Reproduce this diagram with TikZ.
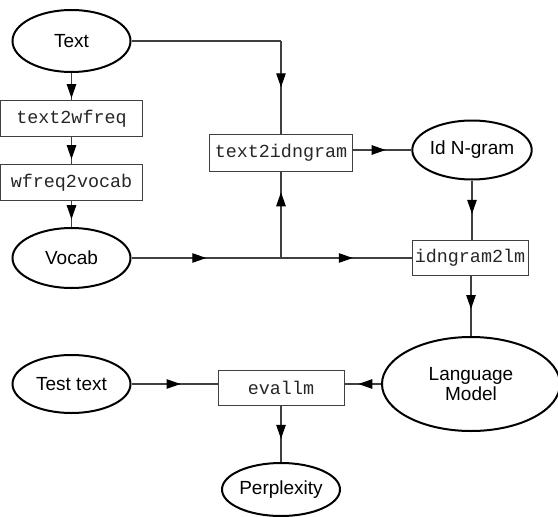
\documentclass[tikz,border=0pt]{standalone}
\usepackage{fontspec}
\setmainfont{Liberation Sans}
\newfontfamily\monof{Liberation Mono}
\usetikzlibrary{shapes.geometric,arrows.meta,decorations.markings}
\tikzset{
  oval/.style={ellipse, draw=black, line width=2pt, inner sep=0pt,
    font=\fontsize{19}{20}\selectfont, align=center},
  prog/.style={rectangle, draw=black!75, line width=1pt, inner sep=0pt,
    minimum height=36pt, text=black!85, font=\monof\fontsize{18.4}{20}\selectfont},
  conn/.style={draw=black!75, line width=1.1pt},
  midarr/.style={postaction={decorate}, decoration={markings,
    mark=at position #1 with {\arrow[black]{Triangle[length=14pt,width=9.5pt]}}}}
}
\begin{document}
\begin{tikzpicture}[x=1pt,y=-1pt]
\path[use as bounding box, clip] (0,0) rectangle (558,517);
% nodes
\node[oval, minimum width=118pt, minimum height=62pt] (text) at (71.5,41) {Text};
\node[prog, minimum width=142pt] (t2w) at (71.5,118.5) {text2wfreq};
\node[prog, minimum width=142pt] (w2v) at (71.5,182.5) {wfreq2vocab};
\node[oval, minimum width=118pt, minimum height=60pt] (voc) at (71.5,258) {Vocab};
\node[prog, minimum width=143pt, minimum height=37pt] (t2i) at (281,152.5) {text2idngram};
\node[oval, minimum width=110pt, minimum height=59pt] (idn) at (472,150) {Id N-gram};
\node[prog, minimum width=116pt, minimum height=35pt] (i2l) at (470,258) {idngram2lm};
\node[oval, minimum width=178pt, minimum height=94pt] (lm) at (471,384) {Language\\Model};
\node[oval, minimum width=118pt, minimum height=58pt] (tt) at (71.5,384) {Test text};
\node[prog, minimum width=126pt, minimum height=35pt] (ev) at (281,387.5) {evallm};
\node[oval, minimum width=118pt, minimum height=53pt] (pp) at (281,489.5) {Perplexity};
\coordinate (c) at (281,41);
\coordinate (j) at (281,258);
% connectors
\draw[conn, midarr=0.93] (text.south) -- (t2w.north);
\draw[conn, midarr=0.82] (t2w.south) -- (w2v.north);
\draw[conn, midarr=0.70] (w2v.south) -- (voc.north);
\draw[conn] (text.east) -- (c);
\draw[conn, midarr=0.5] (c) -- (t2i.north);
\draw[conn, midarr=0.5] (voc.east) -- (j);
\draw[conn, midarr=0.76] (j) -- (t2i.south);
\draw[conn, midarr=0.55] (j) -- (i2l.west);
\draw[conn, midarr=0.56] (t2i.east |- idn.west) -- (idn.west);
\draw[conn, midarr=0.56] (idn.south) -- (idn.south |- i2l.north);
\draw[conn, midarr=0.55] (i2l.south -| lm.north) -- (lm.north);
\draw[conn, midarr=0.57] (tt.east) -- (tt.east -| ev.west);
\draw[conn, midarr=0.62] (lm.west) -- (lm.west -| ev.east);
\draw[conn, midarr=0.59] (ev.south) -- (pp.north);
\end{tikzpicture}
\end{document}
